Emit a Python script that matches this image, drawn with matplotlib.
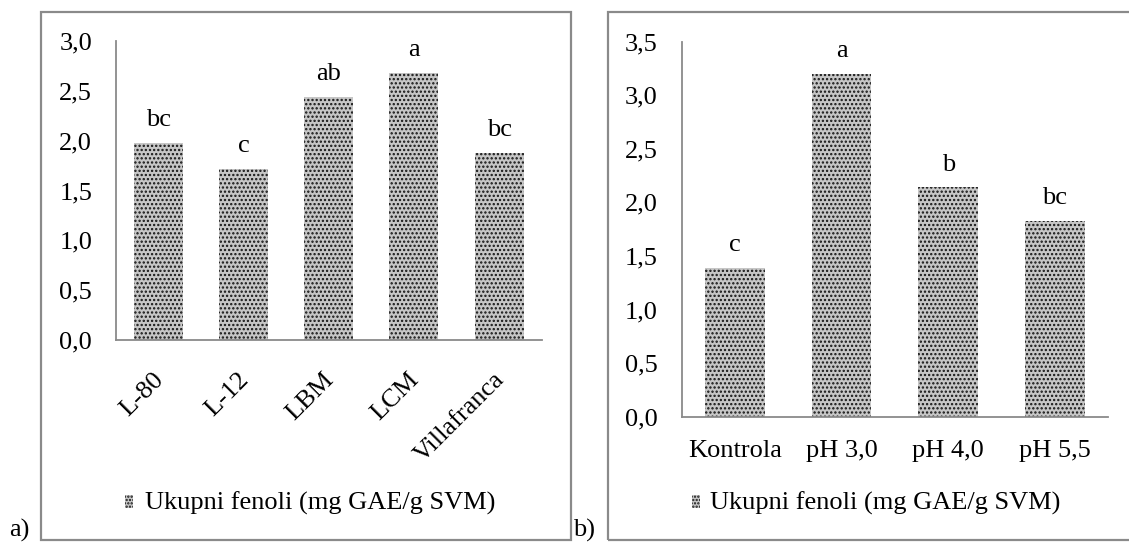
import matplotlib
matplotlib.use("Agg")
import matplotlib.pyplot as plt
import matplotlib.transforms as mtransforms
from matplotlib.patches import Rectangle

# Data
cultivars = ["L-80", "L-12", "LBM", "LCM", "Villafranca"]
phenols_cultivar = [1.98, 1.72, 2.44, 2.68, 1.88]
letters_cultivar = ["bc", "c", "ab", "a", "bc"]

treatments = ["Kontrola", "pH 3,0", "pH 4,0", "pH 5,5"]
phenols_treatment = [1.39, 3.20, 2.14, 1.83]
letters_treatment = ["c", "a", "b", "bc"]

yticks_a = [0.0, 0.5, 1.0, 1.5, 2.0, 2.5, 3.0]
yticks_b = [0.0, 0.5, 1.0, 1.5, 2.0, 2.5, 3.0, 3.5]
series_label = "Ukupni fenoli (mg GAE/g SVM)"

W, H = 1129, 545
plt.rcParams["font.family"] = ["Liberation Serif", "DejaVu Serif"]
plt.rcParams["hatch.linewidth"] = 1.1
FS = 19
BAR_FACE = "#c6c6c6"
BAR_HATCH = "#141414"
SPINE = "#8a8a8a"

fig = plt.figure(figsize=(W / 100, H / 100), dpi=100)


def px_rect(x0, y0, x1, y1):
    """Convert a pixel box (top-left origin) to figure fractions."""
    return [x0 / W, 1 - y1 / H, (x1 - x0) / W, (y1 - y0) / H]


def fx(x):
    return x / W


def fy(y):
    return 1 - y / H


# Panel frames
for x0, x1 in [(41, 571), (608, 1140)]:
    fig.patches.append(Rectangle((fx(x0), fy(540)), fx(x1) - fx(x0), fy(12) - fy(540),
                                 transform=fig.transFigure, fill=False,
                                 edgecolor=SPINE, linewidth=1.6))


def style_axes(ax, ymax, yticks):
    ax.set_ylim(0, ymax)
    ax.set_yticks(yticks)
    ax.set_yticklabels([f"{t:.1f}".replace(".", ",") for t in yticks], fontsize=FS)
    for s in ["top", "right"]:
        ax.spines[s].set_visible(False)
    for s in ["left", "bottom"]:
        ax.spines[s].set_color(SPINE)
        ax.spines[s].set_linewidth(1.3)
    ax.tick_params(axis="y", length=0, pad=17)
    ax.tick_params(axis="x", length=0)
    ax.set_facecolor("none")


def draw_bars(ax, cats, vals, letters, width):
    xs = list(range(len(cats)))
    ax.bar(xs, vals, width=width, color=BAR_FACE, edgecolor=BAR_HATCH,
           linewidth=0, hatch="....")
    ax.set_xlim(-0.5, len(cats) - 0.5)
    for x, v, t in zip(xs, vals, letters):
        ax.annotate(t, (x, v), xytext=(0, 12), textcoords="offset points",
                    ha="center", va="baseline", fontsize=FS)


# Panel a
ax1 = fig.add_axes(px_rect(115.7, 41, 541.7, 340))
draw_bars(ax1, cultivars, phenols_cultivar, letters_cultivar, 0.575)
style_axes(ax1, 3.0, yticks_a)
ax1.set_xticks(range(len(cultivars)))
ax1.set_xticklabels(cultivars, fontsize=FS, rotation=45, ha="right",
                    rotation_mode="anchor")
ax1.tick_params(axis="x", pad=12)
shift = mtransforms.ScaledTranslation(-6 / 100, -12 / 100, fig.dpi_scale_trans)
for lbl in ax1.get_xticklabels():
    lbl.set_transform(lbl.get_transform() + shift)

# Panel b
ax2 = fig.add_axes(px_rect(681.5, 41.7, 1108.3, 416.7))
draw_bars(ax2, treatments, phenols_treatment, letters_treatment, 0.56)
style_axes(ax2, 3.5, yticks_b)
ax2.set_xticks(range(len(treatments)))
ax2.set_xticklabels(treatments, fontsize=FS)
ax2.tick_params(axis="x", pad=17)

# Legends (one per panel, below the category labels)
for mx, tx in [(125, 145), (692, 710)]:
    fig.patches.append(Rectangle((fx(mx), fy(508)), fx(mx + 8) - fx(mx), fy(495) - fy(508),
                                 transform=fig.transFigure, facecolor=BAR_FACE,
                                 edgecolor=BAR_HATCH, linewidth=0, hatch="....."))
    fig.text(fx(tx), fy(510), series_label, fontsize=FS, ha="left", va="baseline")

# Panel letters
fig.text(fx(9), fy(537), "a)", fontsize=FS, ha="left", va="baseline")
fig.text(fx(573), fy(537), "b)", fontsize=FS, ha="left", va="baseline")

fig.savefig("out.png", dpi=100)
